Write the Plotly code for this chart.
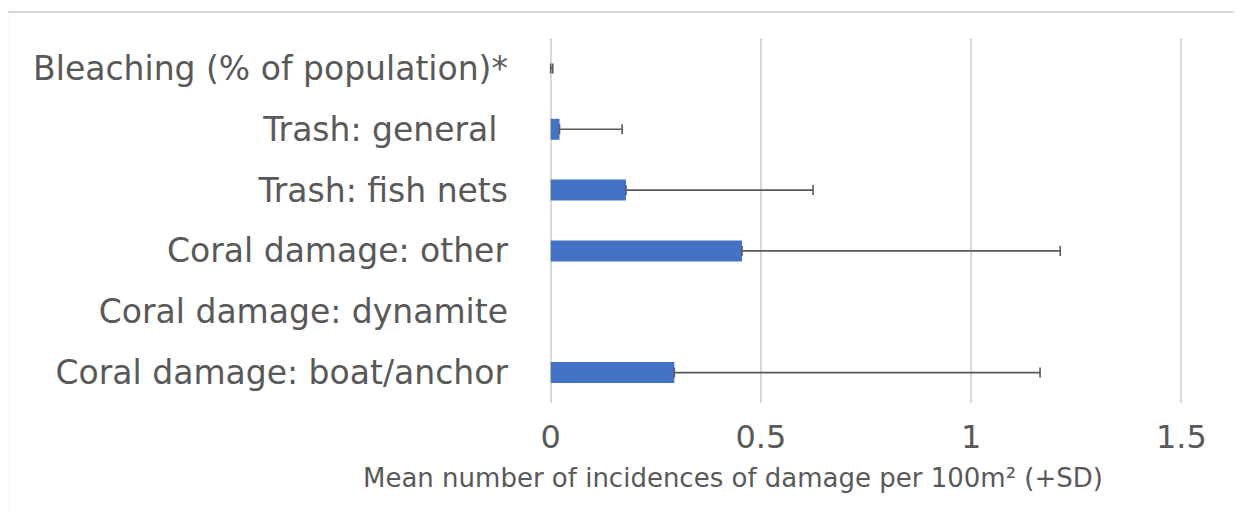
import plotly.graph_objects as go

categories = [
    "Bleaching (% of population)*",
    "Trash: general\u00a0",
    "Trash: fish nets",
    "Coral damage: other",
    "Coral damage: dynamite",
    "Coral damage: boat/anchor",
]
means = [0.0, 0.021, 0.179, 0.455, 0.0, 0.294]
sds = [0.005, 0.149, 0.445, 0.757, None, 0.870]
x_ticks = [0, 0.5, 1, 1.5]
x_tick_labels = ["0", "0.5", "1", "1.5"]
x_title = "Mean number of incidences of damage per 100m² (+SD)"

W, H = 1242, 513
OFF = 8  # page body margin in the browser
pad = 0.004  # tiny range padding so the edge gridlines are drawn
scale = 630 / 1.5  # px per unit on screen
plot_left_screen = 551 - pad * scale
plot_right_screen = 1181 + pad * scale
L = plot_left_screen - OFF
R = W - (plot_right_screen - OFF)
T = 38 - OFF
B = H - (403 - OFF)
pw, ph = W - L - R, H - T - B

def px_x(p):  # screen px -> paper
    return (p - OFF - L) / pw

def px_y(p):
    return (H - B - (p - OFF)) / ph

font_family = "DejaVu Sans"
grey_text = "#595959"
grid = "#D9D9D9"

# categories without an SD (no error bar shown) are left undrawn, as in the original
bar_x = [m if s is not None else None for m, s in zip(means, sds)]
err = [s if s is not None else 0 for s in sds]

fig = go.Figure()
fig.add_trace(go.Bar(
    y=categories,
    x=bar_x,
    orientation="h",
    marker=dict(color="#4472C4", line=dict(width=0)),
    error_x=dict(type="data", array=err, symmetric=False, arrayminus=[0] * len(err),
                 color="#595959", thickness=1.6, width=5),
))

fig.update_layout(
    width=W, height=H,
    margin=dict(l=L, r=R, t=T, b=B, autoexpand=False),
    paper_bgcolor="white",
    plot_bgcolor="white",
    bargap=0.655,
    showlegend=False,
    font=dict(family=font_family, color=grey_text),
    xaxis=dict(
        range=[-pad, 1.5 + pad],
        tickvals=x_ticks,
        ticktext=x_tick_labels,
        showgrid=True,
        gridcolor=grid,
        gridwidth=1.5,
        zeroline=False,
        showline=False,
        ticks="",
        tickfont=dict(size=32, color=grey_text),
        ticklabelstandoff=12,
    ),
    yaxis=dict(
        autorange="reversed",
        showgrid=False,
        zeroline=False,
        showline=False,
        ticks="",
        tickfont=dict(size=33, color=grey_text),
        ticklabelstandoff=40,
    ),
    annotations=[dict(
        text=x_title,
        xref="paper", yref="paper",
        x=px_x(733), y=px_y(478),
        xanchor="center", yanchor="middle",
        showarrow=False,
        font=dict(size=26, color=grey_text, family=font_family),
    )],
    shapes=[dict(
        type="rect", xref="paper", yref="paper",
        x0=px_x(8), x1=px_x(1238), y0=px_y(540), y1=px_y(12),
        line=dict(color=grid, width=2),
        fillcolor="rgba(0,0,0,0)",
        layer="below",
    )],
)

fig.write_html("out.html")
